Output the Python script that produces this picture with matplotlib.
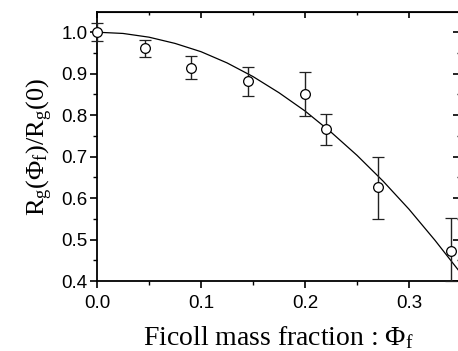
import numpy as np
import matplotlib
matplotlib.use('Agg')
import matplotlib.pyplot as plt
from matplotlib.ticker import MultipleLocator

plt.rcParams['font.family'] = 'Liberation Sans'
plt.rcParams['mathtext.fontset'] = 'custom'
plt.rcParams['mathtext.rm'] = 'Liberation Serif'
plt.rcParams['mathtext.it'] = 'Liberation Serif:italic'

## data

phi = [0.0, 0.046, 0.090, 0.145, 0.200, 0.220, 0.270, 0.340]
rg = [1.000, 0.961, 0.914, 0.882, 0.851, 0.766, 0.626, 0.472]
err_up = [0.022, 0.020, 0.028, 0.033, 0.054, 0.037, 0.074, 0.080]
err_down = [0.021, 0.020, 0.027, 0.037, 0.053, 0.039, 0.077, 0.072]

# fitted curve, read at regular steps
fit_phi = [0.0, 0.025, 0.05, 0.075, 0.1, 0.125, 0.15, 0.175, 0.2,
           0.225, 0.25, 0.275, 0.3, 0.325, 0.35]
fit_rg = [1.000, 0.997, 0.988, 0.973, 0.953, 0.926, 0.893, 0.854, 0.810,
          0.759, 0.703, 0.641, 0.573, 0.498, 0.418]

## figure

fig = plt.figure(figsize=(4.58, 3.51), dpi=100)
ax = fig.add_axes([97/458, 1 - 281/351, 363/458, (281 - 12.3)/351])

ax.plot(fit_phi, fit_rg, color='black', linewidth=0.9, zorder=2)
ax.errorbar(phi, rg, yerr=[err_down, err_up], fmt='o', markersize=7,
            markerfacecolor='white', markeredgecolor='black', markeredgewidth=0.9,
            ecolor='#222222', elinewidth=1.0, capsize=4, capthick=1.0, zorder=3,
            clip_on=False)

ax.set_xlim(0, 0.349)
ax.set_ylim(0.4, 1.048)
ax.xaxis.set_major_locator(MultipleLocator(0.1))
ax.xaxis.set_minor_locator(MultipleLocator(0.05))
ax.yaxis.set_major_locator(MultipleLocator(0.1))
ax.yaxis.set_minor_locator(MultipleLocator(0.05))
ax.xaxis.set_major_formatter(plt.FormatStrFormatter('%.1f'))
ax.yaxis.set_major_formatter(plt.FormatStrFormatter('%.1f'))

for s in ax.spines.values():
    s.set_linewidth(1.3)

ax.tick_params(which='major', direction='out', length=5, width=1.2, labelsize=13.5)
ax.tick_params(axis='x', which='major', pad=5)
ax.tick_params(axis='y', which='major', pad=2)
ax.tick_params(which='minor', direction='out', length=3, width=1.0)

# inward ticks on top and right
top = ax.secondary_xaxis('top')
top.xaxis.set_major_locator(MultipleLocator(0.1))
top.xaxis.set_minor_locator(MultipleLocator(0.05))
top.tick_params(which='major', direction='in', length=4, width=1.2, labeltop=False)
top.tick_params(which='minor', direction='in', length=2.5, width=1.0)
right = ax.secondary_yaxis('right')
right.yaxis.set_major_locator(MultipleLocator(0.1))
right.yaxis.set_minor_locator(MultipleLocator(0.05))
right.tick_params(which='major', direction='in', length=5, width=1.2, labelright=False)
right.tick_params(which='minor', direction='in', length=2.5, width=1.0)

ax.set_xlabel(r'Ficoll mass fraction : $\mathrm{\Phi_f}$', fontsize=20,
              family='Liberation Serif', labelpad=9)
ax.set_ylabel(r'$\mathrm{R_g(\Phi_f)/R_g(0)}$', fontsize=19, labelpad=4)

plt.savefig('out.png', dpi=100)
